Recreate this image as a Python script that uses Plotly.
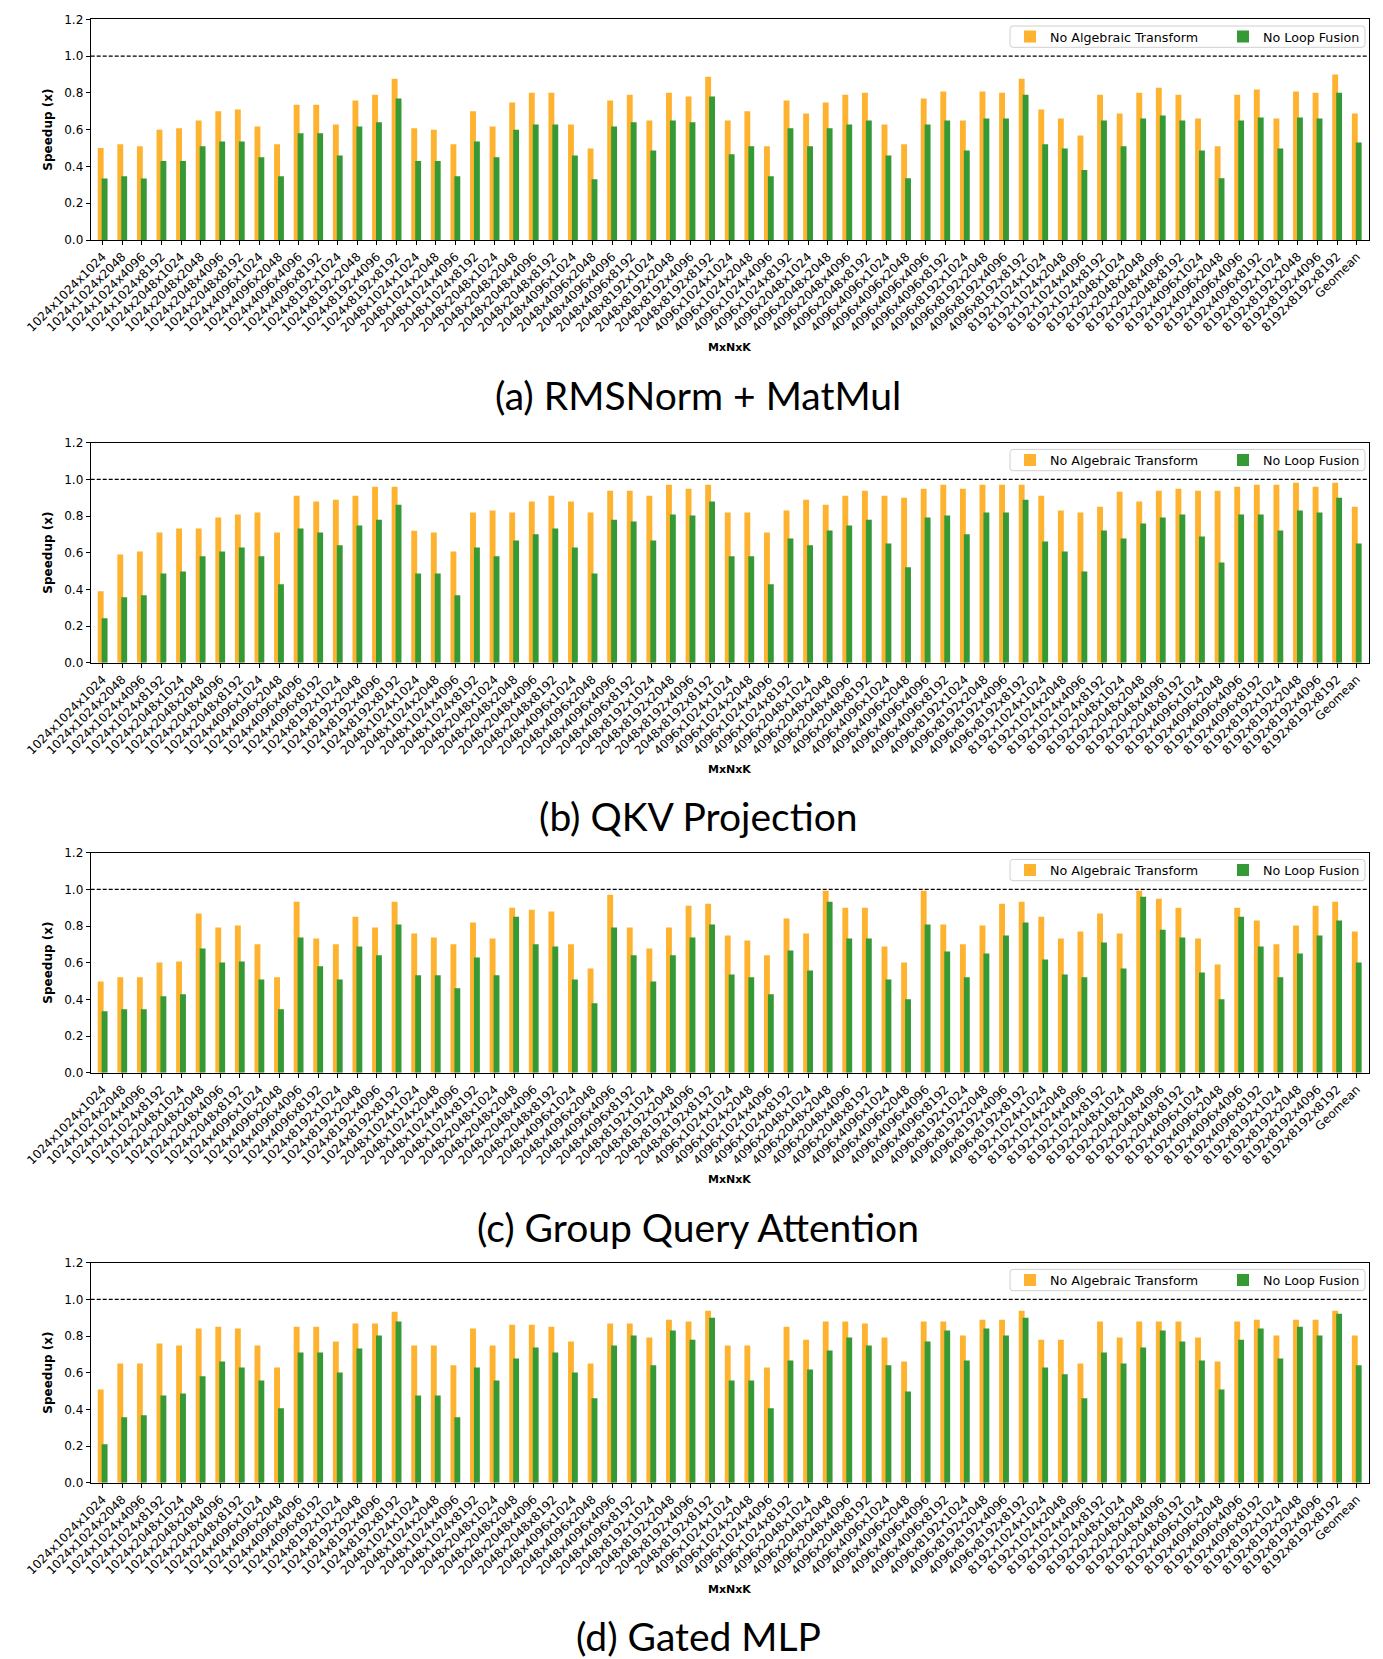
import plotly.graph_objects as go

# ---------------- data ----------------
dims = ["1024", "2048", "4096", "8192"]
categories = [f"{m}x{n}x{k}" for m in dims for n in dims for k in dims] + ["Geomean"]

series_names = ["No Algebraic Transform", "No Loop Fusion"]

rms_no_alg = [0.50, 0.52, 0.51, 0.60, 0.607, 0.65, 0.70, 0.71, 0.617, 0.52, 0.736, 0.736, 0.628, 0.758, 0.79, 0.877,
              0.607, 0.60, 0.52, 0.70, 0.617, 0.747, 0.80, 0.80, 0.628, 0.498, 0.758, 0.79, 0.65, 0.80, 0.78, 0.888,
              0.65, 0.70, 0.51, 0.758, 0.688, 0.747, 0.79, 0.80, 0.628, 0.52, 0.77, 0.807, 0.65, 0.807, 0.80, 0.877,
              0.71, 0.66, 0.568, 0.79, 0.688, 0.80, 0.828, 0.79, 0.66, 0.51, 0.79, 0.818, 0.66, 0.807, 0.80, 0.90,
              0.688]
rms_no_fusion = [0.334, 0.347, 0.334, 0.43, 0.43, 0.51, 0.536, 0.536, 0.45, 0.347, 0.58, 0.58, 0.46, 0.617, 0.64, 0.77,
                 0.43, 0.43, 0.347, 0.536, 0.45, 0.60, 0.628, 0.628, 0.46, 0.33, 0.617, 0.64, 0.487, 0.65, 0.64, 0.78,
                 0.466, 0.51, 0.347, 0.607, 0.51, 0.607, 0.628, 0.65, 0.46, 0.336, 0.628, 0.65, 0.487, 0.66, 0.66, 0.79,
                 0.52, 0.498, 0.38, 0.65, 0.51, 0.66, 0.677, 0.65, 0.487, 0.336, 0.65, 0.666, 0.498, 0.666, 0.66, 0.80,
                 0.53]

qkv_no_alg = [0.39, 0.59, 0.607, 0.71, 0.732, 0.732, 0.792, 0.808, 0.819, 0.71, 0.911, 0.879, 0.889, 0.911, 0.96, 0.96,
              0.72, 0.71, 0.607, 0.819, 0.83, 0.819, 0.879, 0.911, 0.879, 0.819, 0.938, 0.938, 0.911, 0.971, 0.949, 0.971,
              0.819, 0.819, 0.71, 0.83, 0.889, 0.862, 0.911, 0.938, 0.911, 0.90, 0.949, 0.971, 0.949, 0.971, 0.971, 0.971,
              0.911, 0.83, 0.819, 0.851, 0.933, 0.879, 0.938, 0.949, 0.938, 0.938, 0.96, 0.971, 0.971, 0.982, 0.96, 0.982,
              0.851]
qkv_no_fusion = [0.243, 0.357, 0.368, 0.487, 0.498, 0.58, 0.607, 0.629, 0.58, 0.428, 0.732, 0.71, 0.64, 0.748, 0.78, 0.862,
                 0.487, 0.487, 0.368, 0.629, 0.58, 0.667, 0.70, 0.732, 0.629, 0.487, 0.78, 0.77, 0.667, 0.808, 0.803, 0.879,
                 0.58, 0.58, 0.428, 0.678, 0.64, 0.721, 0.748, 0.78, 0.65, 0.52, 0.792, 0.803, 0.70, 0.819, 0.819, 0.889,
                 0.661, 0.607, 0.498, 0.721, 0.678, 0.759, 0.792, 0.808, 0.688, 0.547, 0.808, 0.808, 0.721, 0.83, 0.819, 0.90,
                 0.65]

gqa_no_alg = [0.498, 0.52, 0.52, 0.601, 0.607, 0.868, 0.792, 0.803, 0.70, 0.52, 0.933, 0.732, 0.70, 0.851, 0.792, 0.933,
              0.759, 0.737, 0.70, 0.819, 0.732, 0.90, 0.889, 0.879, 0.70, 0.569, 0.971, 0.792, 0.678, 0.792, 0.911, 0.922,
              0.748, 0.721, 0.64, 0.841, 0.759, 0.993, 0.90, 0.90, 0.688, 0.601, 0.993, 0.808, 0.70, 0.803, 0.922, 0.933,
              0.851, 0.732, 0.77, 0.868, 0.759, 0.993, 0.949, 0.90, 0.732, 0.59, 0.90, 0.83, 0.70, 0.803, 0.911, 0.933,
              0.77]
gqa_no_fusion = [0.335, 0.346, 0.346, 0.417, 0.428, 0.678, 0.601, 0.607, 0.509, 0.346, 0.737, 0.58, 0.509, 0.688, 0.64, 0.808,
                 0.531, 0.531, 0.46, 0.629, 0.531, 0.851, 0.70, 0.688, 0.509, 0.379, 0.792, 0.64, 0.498, 0.64, 0.737, 0.808,
                 0.536, 0.52, 0.428, 0.667, 0.558, 0.933, 0.732, 0.732, 0.509, 0.40, 0.808, 0.661, 0.52, 0.65, 0.748, 0.819,
                 0.618, 0.536, 0.52, 0.71, 0.569, 0.96, 0.78, 0.737, 0.547, 0.40, 0.851, 0.688, 0.52, 0.65, 0.748, 0.83,
                 0.601]

mlp_no_alg = [0.509, 0.65, 0.65, 0.759, 0.748, 0.841, 0.851, 0.841, 0.748, 0.629, 0.851, 0.851, 0.77, 0.868, 0.868, 0.933,
              0.748, 0.748, 0.64, 0.841, 0.748, 0.862, 0.862, 0.851, 0.77, 0.65, 0.868, 0.868, 0.792, 0.889, 0.879, 0.938,
              0.748, 0.748, 0.629, 0.851, 0.78, 0.879, 0.879, 0.868, 0.792, 0.661, 0.879, 0.879, 0.803, 0.889, 0.889, 0.938,
              0.78, 0.78, 0.65, 0.879, 0.792, 0.879, 0.879, 0.879, 0.792, 0.661, 0.879, 0.889, 0.803, 0.889, 0.889, 0.938,
              0.803]
mlp_no_fusion = [0.21, 0.357, 0.368, 0.476, 0.487, 0.58, 0.661, 0.629, 0.558, 0.406, 0.71, 0.71, 0.601, 0.732, 0.803, 0.879,
                 0.476, 0.476, 0.357, 0.629, 0.558, 0.678, 0.737, 0.71, 0.601, 0.46, 0.748, 0.803, 0.64, 0.83, 0.78, 0.90,
                 0.558, 0.558, 0.406, 0.667, 0.618, 0.721, 0.792, 0.748, 0.64, 0.498, 0.77, 0.83, 0.667, 0.841, 0.803, 0.90,
                 0.629, 0.591, 0.46, 0.71, 0.65, 0.737, 0.83, 0.77, 0.667, 0.509, 0.78, 0.841, 0.678, 0.851, 0.803, 0.922,
                 0.64]

panel_captions = ["(a) RMSNorm + MatMul", "(b) QKV Projection", "(c) Group Query Attention", "(d) Gated MLP"]
panel_data = [(rms_no_alg, rms_no_fusion), (qkv_no_alg, qkv_no_fusion),
              (gqa_no_alg, gqa_no_fusion), (mlp_no_alg, mlp_no_fusion)]

# ---------------- style / layout ----------------
W, H = 1383, 1659
ORANGE = "#FDB32F"
GREEN = "#359A35"
FONT = "DejaVu Sans"

# pixel positions of each plot area (top, bottom)
panel_px = [(19.3, 240.0), (442.7, 662.7), (852.7, 1072.7), (1262.7, 1482.7)]
x_left, x_right = 90.7, 1368.7
caption_y = [395, 816, 1227, 1636]
legend_box = (1010, 1365)  # left/right in px


def py(p):
    return 1 - p / H


def px(p):
    return p / W


def rounded_box(x0, y0, x1, y1, r=3):
    # path in paper coords from pixel coordinates
    pts = [
        f"M {px(x0 + r)} {py(y0)}", f"L {px(x1 - r)} {py(y0)}",
        f"Q {px(x1)} {py(y0)} {px(x1)} {py(y0 + r)}", f"L {px(x1)} {py(y1 - r)}",
        f"Q {px(x1)} {py(y1)} {px(x1 - r)} {py(y1)}", f"L {px(x0 + r)} {py(y1)}",
        f"Q {px(x0)} {py(y1)} {px(x0)} {py(y1 - r)}", f"L {px(x0)} {py(y0 + r)}",
        f"Q {px(x0)} {py(y0)} {px(x0 + r)} {py(y0)}", "Z",
    ]
    return " ".join(pts)


fig = go.Figure()
layout = dict(
    width=W, height=H, margin=dict(l=0, r=0, t=0, b=0, autoexpand=False),
    paper_bgcolor="white", plot_bgcolor="white",
    barmode="overlay", font=dict(family=FONT, size=12, color="black"),
    shapes=[], annotations=[],
)

for i, ((alg, fus), cap) in enumerate(zip(panel_data, panel_captions)):
    n = i + 1
    xa = "x" if n == 1 else f"x{n}"
    ya = "y" if n == 1 else f"y{n}"
    lg = "legend" if n == 1 else f"legend{n}"
    top, bot = panel_px[i]

    fig.add_trace(go.Bar(x=categories, y=alg, name=series_names[0], marker_color=ORANGE,
                         marker_line_width=0, offset=-0.25, width=0.3,
                         xaxis=xa, yaxis=ya, legend=lg))
    fig.add_trace(go.Bar(x=categories, y=fus, name=series_names[1], marker_color=GREEN,
                         marker_line_width=0, offset=-0.05, width=0.3,
                         xaxis=xa, yaxis=ya, legend=lg))

    layout[f"xaxis{'' if n == 1 else n}"] = dict(
        domain=[x_left / W, x_right / W], anchor=ya, type="category", automargin=False,
        range=[-0.61, 64.61], tickangle=-45, ticks="outside", ticklen=4,
        tickcolor="black", showline=True, linecolor="black", linewidth=1, mirror=True,
        showgrid=False, tickfont=dict(family=FONT, size=12, color="black"),
    )
    layout[f"yaxis{'' if n == 1 else n}"] = dict(
        domain=[py(bot), py(top)], anchor=xa, range=[0, 1.2], dtick=0.2, tickformat=".1f",
        automargin=False,
        ticks="outside", ticklen=4, tickcolor="black", showline=True, linecolor="black",
        linewidth=1, mirror=True, showgrid=False, zeroline=False,
        tickfont=dict(family=FONT, size=12, color="black"),
    )
    # legend frame (white, light-grey rounded border), drawn under the legend entries
    layout["shapes"].append(dict(
        type="path", xref="paper", yref="paper",
        path=rounded_box(legend_box[0], top + 6.7, legend_box[1], top + 28),
        fillcolor="white", line=dict(color="#d0d0d0", width=1), layer="above",
    ))
    layout[lg] = dict(
        orientation="h", x=px(legend_box[0]), xanchor="left", y=py(top + 2.5), yanchor="top",
        bgcolor="rgba(0,0,0,0)", borderwidth=0,
        font=dict(family=FONT, size=12.7, color="black"),
        itemwidth=30, entrywidth=168, entrywidthmode="pixels", traceorder="normal",
    )
    layout["shapes"].append(dict(
        type="line", xref=f"{xa} domain", yref=ya, x0=0, x1=1, y0=1.0, y1=1.0,
        line=dict(color="black", width=1.2, dash="4px,2px"), layer="above",
    ))
    # axis titles
    layout["annotations"].append(dict(
        text="<b>Speedup (x)</b>", xref="paper", yref="paper", x=48 / W, y=py((top + bot) / 2),
        textangle=-90, showarrow=False, font=dict(family=FONT, size=12, color="black"),
        xanchor="center", yanchor="middle",
    ))
    layout["annotations"].append(dict(
        text="<b>MxNxK</b>", xref="paper", yref="paper", x=(x_left + x_right) / 2 / W, y=py(bot + 107),
        showarrow=False, font=dict(family=FONT, size=11, color="black"),
        xanchor="center", yanchor="middle",
    ))
    # caption
    layout["annotations"].append(dict(
        text=cap, xref="paper", yref="paper", x=698 / W, y=py(caption_y[i]),
        showarrow=False, font=dict(family="Lato", size=39, color="black"),
        xanchor="center", yanchor="middle",
    ))

fig.update_layout(**layout)
fig.write_html("out.html")
